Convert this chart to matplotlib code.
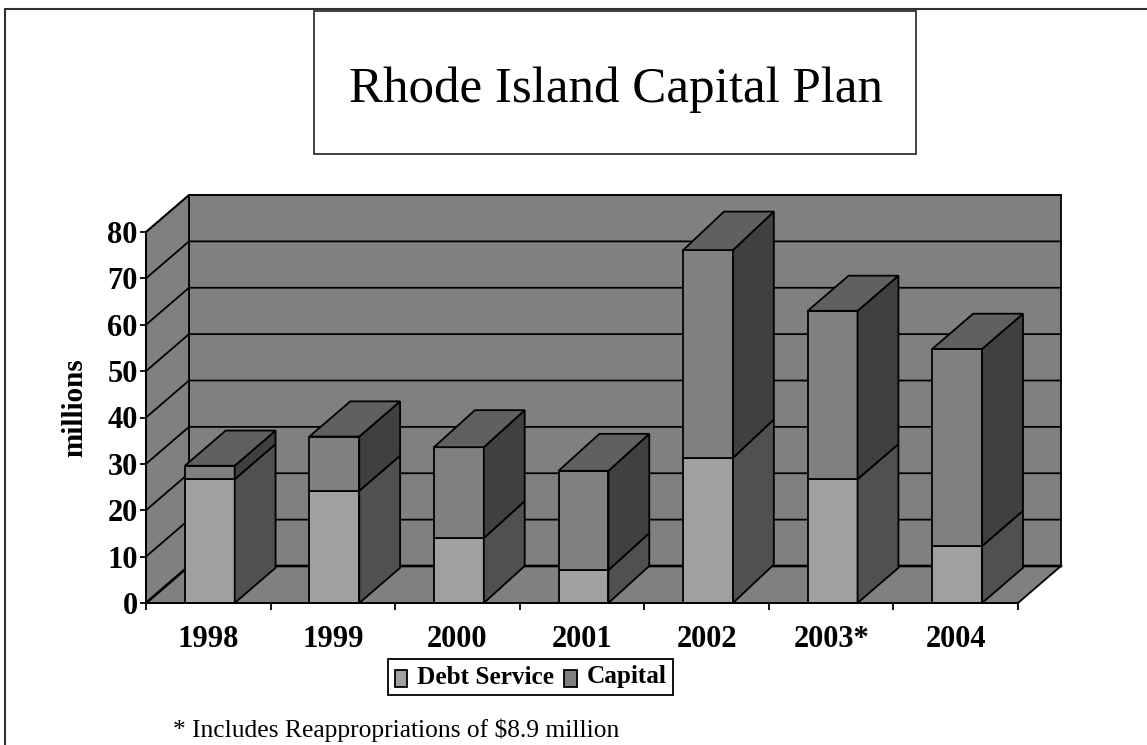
import matplotlib
matplotlib.use("Agg")
import matplotlib.pyplot as plt
from matplotlib.legend_handler import HandlerPatch
from matplotlib.lines import Line2D
from matplotlib.patches import Polygon, Rectangle, Patch

years = ["1998", "1999", "2000", "2001", "2002", "2003*", "2004"]
debt_service = [26.7, 24.2, 14.0, 7.1, 31.3, 26.7, 12.3]
capital = [2.9, 11.7, 19.6, 21.4, 44.8, 36.3, 42.5]
y_ticks = [0, 10, 20, 30, 40, 50, 60, 70, 80]
bar_rise = [0.95, 0.95, 1.0, 1.0, 1.04, 0.95, 0.95]

W, H = 1147, 745
plt.rcParams["font.family"] = ["Liberation Serif", "DejaVu Serif"]
fig = plt.figure(figsize=(W / 100, H / 100), dpi=100, facecolor="white")
ax = fig.add_axes([146 / W, 1 - 603 / H, 872 / W, 371 / H])
ax.set_xlim(-0.5, 6.5)
ax.set_ylim(0, 80)
ax.patch.set_visible(False)

DX = 43 / (872 / 7)
DY = 37 / (371 / 80)
LW = 1.3
BAR_W = 0.40
BAR_D = 0.95
XSHIFT = 0.012


def pt(x, y, d=0.0, e=None):
    return (x + d * DX, y + (d if e is None else e) * DY)


def poly(points, fc, z):
    ax.add_patch(Polygon(points, closed=True, facecolor=fc, edgecolor="black",
                         linewidth=LW, clip_on=False, zorder=z, joinstyle="miter"))


x0, x1 = ax.get_xlim()
top = y_ticks[-1]
poly([pt(x0, 0, 1), pt(x1, 0, 1), pt(x1, top, 1), pt(x0, top, 1)], "#808080", 1)
poly([pt(x0, 0, 0), pt(x0, 0, 1), pt(x0, top, 1), pt(x0, top, 0)], "#808080", 1)
poly([pt(x0, 0, 0), pt(x1, 0, 0), pt(x1, 0, 1), pt(x0, 0, 1)], "#808080", 1)
for v in y_ticks:
    a, b, c = pt(x0, v, 0), pt(x0, v, 1), pt(x1, v, 1)
    ax.plot([a[0], b[0], c[0]], [a[1], b[1], c[1]], color="black",
            lw=LW + (0.6 if v == 0 else 0), clip_on=False, zorder=2,
            solid_joinstyle="miter")


def box(xc, lo, hi, front, side, z, rise):
    l, r = xc - BAR_W / 2, xc + BAR_W / 2
    poly([pt(l, lo), pt(r, lo), pt(r, hi), pt(l, hi)], front, z)
    poly([pt(r, lo), pt(r, lo, BAR_D, rise), pt(r, hi, BAR_D, rise), pt(r, hi)], side, z)


for i, (d, c, rise) in enumerate(zip(debt_service, capital, bar_rise)):
    xc = i + XSHIFT
    z = 3 + i
    box(xc, 0, d, "#A0A0A0", "#505050", z, rise)
    box(xc, d, d + c, "#808080", "#404040", z, rise)
    l, r = xc - BAR_W / 2, xc + BAR_W / 2
    t = d + c
    poly([pt(l, t), pt(r, t), pt(r, t, BAR_D, rise), pt(l, t, BAR_D, rise)], "#606060", z)

for s in ("top", "right"):
    ax.spines[s].set_visible(False)
for s in ("left", "bottom"):
    ax.spines[s].set_linewidth(LW)
    ax.spines[s].set_zorder(20)

ax.set_yticks(y_ticks)
ax.set_yticklabels([str(v) for v in y_ticks], fontsize=22, fontweight="bold")
ax.tick_params(axis="y", length=4, width=LW, pad=2)
ax.set_xticks([i - 0.5 for i in range(len(years) + 1)])
ax.set_xticklabels([])
ax.set_xticks(list(range(len(years))), minor=True)
ax.set_xticklabels(years, minor=True, fontsize=22, fontweight="bold")
ax.tick_params(axis="x", which="major", length=5, width=LW)
ax.tick_params(axis="x", which="minor", length=0, pad=16)
fig.text(75 / W, 1 - 408 / H, "millions", rotation=90, ha="center", va="center",
         fontsize=21, fontweight="bold")

# outer frame (only its top and left edges fall inside the picture) and title box
fig.add_artist(Line2D([5 / W, 5 / W, 1], [0, 1 - 9 / H, 1 - 9 / H], transform=fig.transFigure,
                      color="#303030", linewidth=1.5, solid_joinstyle="miter"))
fig.add_artist(Rectangle((314 / W, 1 - 154 / H), 602 / W, 143 / H, transform=fig.transFigure,
                         facecolor="white", edgecolor="#202020", linewidth=1.2))
fig.text(616 / W, 1 - 102 / H, "Rhode Island Capital Plan", ha="center", va="baseline",
         fontsize=36.7)
fig.text(173 / W, 1 - 737 / H, "* Includes Reappropriations of $8.9 million", ha="left",
         va="baseline", fontsize=18.4)


def lowered_swatch(legend, orig_handle, xdescent, ydescent, width, height, fontsize):
    return Rectangle((-xdescent, -ydescent - 2.5), width, height)


handles = [Patch(facecolor="#A0A0A0", edgecolor="black", linewidth=LW),
           Patch(facecolor="#808080", edgecolor="black", linewidth=LW)]
leg = fig.legend(handles, ["Debt Service", "Capital"], ncol=2, loc="center",
                 bbox_to_anchor=(530.5 / W, 1 - 677 / H), frameon=True, fancybox=False,
                 edgecolor="black", framealpha=1,
                 prop={"size": 18.2, "weight": "bold", "family": "Liberation Serif"},
                 handlelength=0.51, handleheight=0.67, handletextpad=0.36,
                 columnspacing=0.43, borderpad=0.27, borderaxespad=0,
                 handler_map={Patch: HandlerPatch(patch_func=lowered_swatch)})
leg.get_frame().set_linewidth(LW)

fig.savefig("out.png", dpi=100)
